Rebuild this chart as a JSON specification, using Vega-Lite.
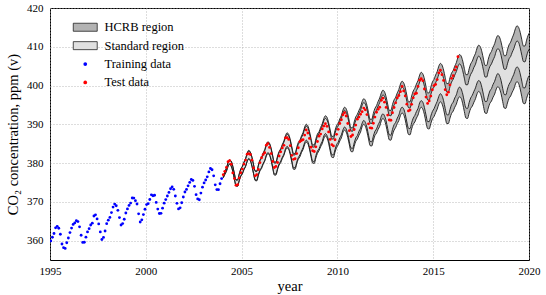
{
"$schema": "https://vega.github.io/schema/vega-lite/v6.json",
"width": 479, "height": 252,
"autosize": {"type": "none"},
"padding": {"left": 50, "top": 8, "right": 17, "bottom": 35},
"background": "white",
"config": {
 "view": {"stroke": "black", "strokeWidth": 1},
 "font": "Liberation Serif",
 "axis": {"labelFont": "Liberation Serif", "titleFont": "Liberation Serif", "labelFontSize": 11, "titleFontSize": 14.5, "labelColor": "black", "titleColor": "black", "titleFontWeight": "normal", "ticks": false, "domain": false, "grid": true, "gridColor": "#aaaaaa", "gridDash": [1, 2], "gridWidth": 0.8, "labelFlush": false}
},
"datasets": {
"band": [
{"t":2004.042,"lh":376.2,"ls":376.2,"hs":376.5,"hh":376.5},
{"t":2004.125,"lh":377.1,"ls":377.1,"hs":377.7,"hh":377.7},
{"t":2004.208,"lh":377.9,"ls":377.9,"hs":378.7,"hh":378.7},
{"t":2004.292,"lh":379.1,"ls":379.2,"hs":380.1,"hh":380.1},
{"t":2004.375,"lh":379.7,"ls":379.8,"hs":380.8,"hh":380.8},
{"t":2004.458,"lh":379.2,"ls":379.2,"hs":380.4,"hh":380.5},
{"t":2004.542,"lh":377.8,"ls":377.9,"hs":379.1,"hh":379.2},
{"t":2004.625,"lh":375.8,"ls":375.9,"hs":377.2,"hh":377.3},
{"t":2004.708,"lh":374.1,"ls":374.2,"hs":375.6,"hh":375.7},
{"t":2004.792,"lh":374.0,"ls":374.1,"hs":375.6,"hh":375.7},
{"t":2004.875,"lh":375.4,"ls":375.5,"hs":377.1,"hh":377.2},
{"t":2004.958,"lh":376.6,"ls":376.7,"hs":378.4,"hh":378.5},
{"t":2005.042,"lh":377.2,"ls":377.4,"hs":379.1,"hh":379.2},
{"t":2005.125,"lh":378.3,"ls":378.4,"hs":380.2,"hh":380.3},
{"t":2005.208,"lh":379.1,"ls":379.2,"hs":381.0,"hh":381.2},
{"t":2005.292,"lh":380.4,"ls":380.5,"hs":382.4,"hh":382.6},
{"t":2005.375,"lh":381.0,"ls":381.2,"hs":383.1,"hh":383.3},
{"t":2005.458,"lh":380.5,"ls":380.7,"hs":382.7,"hh":382.8},
{"t":2005.542,"lh":379.1,"ls":379.3,"hs":381.4,"hh":381.5},
{"t":2005.625,"lh":377.2,"ls":377.3,"hs":379.5,"hh":379.6},
{"t":2005.708,"lh":375.5,"ls":375.7,"hs":377.9,"hh":378.0},
{"t":2005.792,"lh":375.4,"ls":375.6,"hs":377.8,"hh":378.0},
{"t":2005.875,"lh":376.8,"ls":377.0,"hs":379.3,"hh":379.5},
{"t":2005.958,"lh":378.0,"ls":378.2,"hs":380.6,"hh":380.8},
{"t":2006.042,"lh":378.6,"ls":378.9,"hs":381.3,"hh":381.5},
{"t":2006.125,"lh":379.7,"ls":379.9,"hs":382.4,"hh":382.6},
{"t":2006.208,"lh":380.5,"ls":380.7,"hs":383.2,"hh":383.5},
{"t":2006.292,"lh":381.8,"ls":382.1,"hs":384.6,"hh":384.9},
{"t":2006.375,"lh":382.4,"ls":382.7,"hs":385.3,"hh":385.5},
{"t":2006.458,"lh":382.0,"ls":382.2,"hs":384.9,"hh":385.1},
{"t":2006.542,"lh":380.6,"ls":380.9,"hs":383.6,"hh":383.8},
{"t":2006.625,"lh":378.6,"ls":378.9,"hs":381.6,"hh":381.9},
{"t":2006.708,"lh":376.9,"ls":377.2,"hs":380.0,"hh":380.3},
{"t":2006.792,"lh":376.9,"ls":377.2,"hs":380.0,"hh":380.3},
{"t":2006.875,"lh":378.3,"ls":378.6,"hs":381.5,"hh":381.8},
{"t":2006.958,"lh":379.5,"ls":379.8,"hs":382.7,"hh":383.0},
{"t":2007.042,"lh":380.1,"ls":380.5,"hs":383.4,"hh":383.7},
{"t":2007.125,"lh":381.2,"ls":381.5,"hs":384.5,"hh":384.8},
{"t":2007.208,"lh":382.0,"ls":382.3,"hs":385.4,"hh":385.7},
{"t":2007.292,"lh":383.3,"ls":383.7,"hs":386.7,"hh":387.1},
{"t":2007.375,"lh":383.9,"ls":384.3,"hs":387.4,"hh":387.8},
{"t":2007.458,"lh":383.5,"ls":383.8,"hs":387.0,"hh":387.4},
{"t":2007.542,"lh":382.1,"ls":382.5,"hs":385.7,"hh":386.0},
{"t":2007.625,"lh":380.1,"ls":380.5,"hs":383.7,"hh":384.1},
{"t":2007.708,"lh":378.4,"ls":378.8,"hs":382.1,"hh":382.5},
{"t":2007.792,"lh":378.4,"ls":378.8,"hs":382.1,"hh":382.5},
{"t":2007.875,"lh":379.8,"ls":380.2,"hs":383.6,"hh":384.0},
{"t":2007.958,"lh":381.0,"ls":381.4,"hs":384.8,"hh":385.3},
{"t":2008.042,"lh":381.6,"ls":382.1,"hs":385.5,"hh":385.9},
{"t":2008.125,"lh":382.7,"ls":383.1,"hs":386.6,"hh":387.0},
{"t":2008.208,"lh":383.5,"ls":384.0,"hs":387.4,"hh":387.9},
{"t":2008.292,"lh":384.8,"ls":385.3,"hs":388.8,"hh":389.3},
{"t":2008.375,"lh":385.4,"ls":385.9,"hs":389.5,"hh":390.0},
{"t":2008.458,"lh":385.0,"ls":385.5,"hs":389.1,"hh":389.6},
{"t":2008.542,"lh":383.6,"ls":384.1,"hs":387.7,"hh":388.2},
{"t":2008.625,"lh":381.6,"ls":382.1,"hs":385.8,"hh":386.3},
{"t":2008.708,"lh":380.0,"ls":380.5,"hs":384.2,"hh":384.7},
{"t":2008.792,"lh":379.9,"ls":380.4,"hs":384.1,"hh":384.7},
{"t":2008.875,"lh":381.3,"ls":381.9,"hs":385.6,"hh":386.2},
{"t":2008.958,"lh":382.5,"ls":383.1,"hs":386.9,"hh":387.5},
{"t":2009.042,"lh":383.2,"ls":383.7,"hs":387.6,"hh":388.1},
{"t":2009.125,"lh":384.2,"ls":384.8,"hs":388.6,"hh":389.2},
{"t":2009.208,"lh":385.0,"ls":385.6,"hs":389.5,"hh":390.1},
{"t":2009.292,"lh":386.3,"ls":387.0,"hs":390.9,"hh":391.5},
{"t":2009.375,"lh":387.0,"ls":387.6,"hs":391.5,"hh":392.2},
{"t":2009.458,"lh":386.5,"ls":387.1,"hs":391.1,"hh":391.8},
{"t":2009.542,"lh":385.1,"ls":385.8,"hs":389.8,"hh":390.4},
{"t":2009.625,"lh":383.1,"ls":383.8,"hs":387.8,"hh":388.5},
{"t":2009.708,"lh":381.5,"ls":382.2,"hs":386.2,"hh":386.9},
{"t":2009.792,"lh":381.4,"ls":382.1,"hs":386.2,"hh":386.9},
{"t":2009.875,"lh":382.8,"ls":383.5,"hs":387.7,"hh":388.4},
{"t":2009.958,"lh":384.0,"ls":384.8,"hs":388.9,"hh":389.7},
{"t":2010.042,"lh":384.7,"ls":385.4,"hs":389.6,"hh":390.3},
{"t":2010.125,"lh":385.7,"ls":386.5,"hs":390.7,"hh":391.4},
{"t":2010.208,"lh":386.5,"ls":387.3,"hs":391.5,"hh":392.3},
{"t":2010.292,"lh":387.9,"ls":388.6,"hs":392.9,"hh":393.7},
{"t":2010.375,"lh":388.5,"ls":389.3,"hs":393.6,"hh":394.4},
{"t":2010.458,"lh":388.0,"ls":388.8,"hs":393.1,"hh":394.0},
{"t":2010.542,"lh":386.6,"ls":387.5,"hs":391.8,"hh":392.7},
{"t":2010.625,"lh":384.7,"ls":385.5,"hs":389.9,"hh":390.7},
{"t":2010.708,"lh":383.0,"ls":383.9,"hs":388.3,"hh":389.1},
{"t":2010.792,"lh":382.9,"ls":383.8,"hs":388.2,"hh":389.1},
{"t":2010.875,"lh":384.3,"ls":385.2,"hs":389.7,"hh":390.6},
{"t":2010.958,"lh":385.6,"ls":386.5,"hs":391.0,"hh":391.9},
{"t":2011.042,"lh":386.2,"ls":387.1,"hs":391.6,"hh":392.6},
{"t":2011.125,"lh":387.2,"ls":388.2,"hs":392.7,"hh":393.6},
{"t":2011.208,"lh":388.0,"ls":389.0,"hs":393.6,"hh":394.5},
{"t":2011.292,"lh":389.4,"ls":390.3,"hs":394.9,"hh":395.9},
{"t":2011.375,"lh":390.0,"ls":391.0,"hs":395.6,"hh":396.6},
{"t":2011.458,"lh":389.5,"ls":390.5,"hs":395.2,"hh":396.2},
{"t":2011.542,"lh":388.1,"ls":389.2,"hs":393.8,"hh":394.9},
{"t":2011.625,"lh":386.2,"ls":387.2,"hs":391.9,"hh":393.0},
{"t":2011.708,"lh":384.5,"ls":385.6,"hs":390.3,"hh":391.3},
{"t":2011.792,"lh":384.4,"ls":385.5,"hs":390.2,"hh":391.3},
{"t":2011.875,"lh":385.8,"ls":386.9,"hs":391.7,"hh":392.8},
{"t":2011.958,"lh":387.1,"ls":388.2,"hs":393.0,"hh":394.1},
{"t":2012.042,"lh":387.7,"ls":388.8,"hs":393.6,"hh":394.8},
{"t":2012.125,"lh":388.7,"ls":389.9,"hs":394.7,"hh":395.9},
{"t":2012.208,"lh":389.5,"ls":390.7,"hs":395.6,"hh":396.8},
{"t":2012.292,"lh":390.9,"ls":392.1,"hs":396.9,"hh":398.1},
{"t":2012.375,"lh":391.5,"ls":392.7,"hs":397.6,"hh":398.8},
{"t":2012.458,"lh":391.0,"ls":392.2,"hs":397.2,"hh":398.4},
{"t":2012.542,"lh":389.6,"ls":390.9,"hs":395.8,"hh":397.1},
{"t":2012.625,"lh":387.6,"ls":388.9,"hs":393.9,"hh":395.2},
{"t":2012.708,"lh":386.0,"ls":387.3,"hs":392.3,"hh":393.6},
{"t":2012.792,"lh":385.9,"ls":387.2,"hs":392.2,"hh":393.6},
{"t":2012.875,"lh":387.3,"ls":388.7,"hs":393.7,"hh":395.1},
{"t":2012.958,"lh":388.5,"ls":389.9,"hs":395.0,"hh":396.3},
{"t":2013.042,"lh":389.2,"ls":390.5,"hs":395.7,"hh":397.0},
{"t":2013.125,"lh":390.2,"ls":391.6,"hs":396.7,"hh":398.1},
{"t":2013.208,"lh":391.0,"ls":392.4,"hs":397.6,"hh":399.0},
{"t":2013.292,"lh":392.3,"ls":393.8,"hs":398.9,"hh":400.4},
{"t":2013.375,"lh":392.9,"ls":394.4,"hs":399.6,"hh":401.1},
{"t":2013.458,"lh":392.5,"ls":394.0,"hs":399.2,"hh":400.7},
{"t":2013.542,"lh":391.1,"ls":392.6,"hs":397.9,"hh":399.4},
{"t":2013.625,"lh":389.1,"ls":390.6,"hs":395.9,"hh":397.5},
{"t":2013.708,"lh":387.4,"ls":389.0,"hs":394.3,"hh":395.8},
{"t":2013.792,"lh":387.3,"ls":388.9,"hs":394.2,"hh":395.8},
{"t":2013.875,"lh":388.8,"ls":390.4,"hs":395.7,"hh":397.3},
{"t":2013.958,"lh":390.0,"ls":391.6,"hs":397.0,"hh":398.6},
{"t":2014.042,"lh":390.6,"ls":392.3,"hs":397.7,"hh":399.3},
{"t":2014.125,"lh":391.6,"ls":393.3,"hs":398.7,"hh":400.4},
{"t":2014.208,"lh":392.4,"ls":394.1,"hs":399.6,"hh":401.3},
{"t":2014.292,"lh":393.8,"ls":395.5,"hs":400.9,"hh":402.7},
{"t":2014.375,"lh":394.4,"ls":396.1,"hs":401.6,"hh":403.4},
{"t":2014.458,"lh":393.9,"ls":395.7,"hs":401.2,"hh":403.0},
{"t":2014.542,"lh":392.5,"ls":394.3,"hs":399.8,"hh":401.7},
{"t":2014.625,"lh":390.5,"ls":392.4,"hs":397.9,"hh":399.7},
{"t":2014.708,"lh":388.9,"ls":390.7,"hs":396.3,"hh":398.1},
{"t":2014.792,"lh":388.8,"ls":390.7,"hs":396.2,"hh":398.1},
{"t":2014.875,"lh":390.2,"ls":392.1,"hs":397.7,"hh":399.6},
{"t":2014.958,"lh":391.4,"ls":393.3,"hs":399.0,"hh":400.9},
{"t":2015.042,"lh":392.0,"ls":394.0,"hs":399.6,"hh":401.6},
{"t":2015.125,"lh":393.0,"ls":395.0,"hs":400.7,"hh":402.7},
{"t":2015.208,"lh":393.9,"ls":395.9,"hs":401.6,"hh":403.6},
{"t":2015.292,"lh":395.2,"ls":397.2,"hs":402.9,"hh":405.0},
{"t":2015.375,"lh":395.8,"ls":397.9,"hs":403.6,"hh":405.7},
{"t":2015.458,"lh":395.3,"ls":397.4,"hs":403.2,"hh":405.3},
{"t":2015.542,"lh":393.9,"ls":396.1,"hs":401.8,"hh":404.0},
{"t":2015.625,"lh":391.9,"ls":394.1,"hs":399.9,"hh":402.1},
{"t":2015.708,"lh":390.2,"ls":392.5,"hs":398.3,"hh":400.5},
{"t":2015.792,"lh":390.2,"ls":392.4,"hs":398.2,"hh":400.5},
{"t":2015.875,"lh":391.6,"ls":393.8,"hs":399.7,"hh":402.0},
{"t":2015.958,"lh":392.8,"ls":395.1,"hs":400.9,"hh":403.2},
{"t":2016.042,"lh":393.4,"ls":395.7,"hs":401.6,"hh":403.9},
{"t":2016.125,"lh":394.4,"ls":396.8,"hs":402.7,"hh":405.0},
{"t":2016.208,"lh":395.2,"ls":397.6,"hs":403.6,"hh":405.9},
{"t":2016.292,"lh":396.5,"ls":399.0,"hs":404.9,"hh":407.3},
{"t":2016.375,"lh":397.1,"ls":399.6,"hs":405.6,"hh":408.0},
{"t":2016.458,"lh":396.7,"ls":399.1,"hs":405.1,"hh":407.6},
{"t":2016.542,"lh":395.3,"ls":397.8,"hs":403.8,"hh":406.3},
{"t":2016.625,"lh":393.3,"ls":395.8,"hs":401.9,"hh":404.4},
{"t":2016.708,"lh":391.6,"ls":394.2,"hs":400.2,"hh":402.8},
{"t":2016.792,"lh":391.5,"ls":394.1,"hs":400.2,"hh":402.8},
{"t":2016.875,"lh":392.9,"ls":395.6,"hs":401.7,"hh":404.3},
{"t":2016.958,"lh":394.1,"ls":396.8,"hs":402.9,"hh":405.6},
{"t":2017.042,"lh":394.7,"ls":397.5,"hs":403.6,"hh":406.3},
{"t":2017.125,"lh":395.7,"ls":398.5,"hs":404.7,"hh":407.4},
{"t":2017.208,"lh":396.6,"ls":399.4,"hs":405.5,"hh":408.3},
{"t":2017.292,"lh":397.9,"ls":400.7,"hs":406.9,"hh":409.7},
{"t":2017.375,"lh":398.5,"ls":401.3,"hs":407.6,"hh":410.4},
{"t":2017.458,"lh":398.0,"ls":400.9,"hs":407.1,"hh":410.0},
{"t":2017.542,"lh":396.6,"ls":399.5,"hs":405.8,"hh":408.7},
{"t":2017.625,"lh":394.6,"ls":397.6,"hs":403.9,"hh":406.8},
{"t":2017.708,"lh":392.9,"ls":395.9,"hs":402.2,"hh":405.2},
{"t":2017.792,"lh":392.8,"ls":395.9,"hs":402.2,"hh":405.2},
{"t":2017.875,"lh":394.2,"ls":397.3,"hs":403.7,"hh":406.8},
{"t":2017.958,"lh":395.4,"ls":398.6,"hs":404.9,"hh":408.1},
{"t":2018.042,"lh":396.0,"ls":399.2,"hs":405.6,"hh":408.8},
{"t":2018.125,"lh":397.0,"ls":400.3,"hs":406.6,"hh":409.9},
{"t":2018.208,"lh":397.8,"ls":401.1,"hs":407.5,"hh":410.8},
{"t":2018.292,"lh":399.1,"ls":402.4,"hs":408.9,"hh":412.2},
{"t":2018.375,"lh":399.7,"ls":403.1,"hs":409.5,"hh":412.9},
{"t":2018.458,"lh":399.2,"ls":402.6,"hs":409.1,"hh":412.5},
{"t":2018.542,"lh":397.9,"ls":401.3,"hs":407.8,"hh":411.2},
{"t":2018.625,"lh":395.9,"ls":399.3,"hs":405.8,"hh":409.3},
{"t":2018.708,"lh":394.2,"ls":397.7,"hs":404.2,"hh":407.7},
{"t":2018.792,"lh":394.1,"ls":397.6,"hs":404.2,"hh":407.7},
{"t":2018.875,"lh":395.5,"ls":399.1,"hs":405.6,"hh":409.2},
{"t":2018.958,"lh":396.7,"ls":400.3,"hs":406.9,"hh":410.5},
{"t":2019.042,"lh":397.3,"ls":401.0,"hs":407.5,"hh":411.2},
{"t":2019.125,"lh":398.3,"ls":402.0,"hs":408.6,"hh":412.3},
{"t":2019.208,"lh":399.1,"ls":402.9,"hs":409.5,"hh":413.3},
{"t":2019.292,"lh":400.4,"ls":404.2,"hs":410.8,"hh":414.7},
{"t":2019.375,"lh":401.0,"ls":404.8,"hs":411.5,"hh":415.4},
{"t":2019.458,"lh":400.5,"ls":404.4,"hs":411.1,"hh":415.0},
{"t":2019.542,"lh":399.1,"ls":403.0,"hs":409.7,"hh":413.7},
{"t":2019.625,"lh":397.1,"ls":401.1,"hs":407.8,"hh":411.8},
{"t":2019.708,"lh":395.4,"ls":399.4,"hs":406.2,"hh":410.2},
{"t":2019.792,"lh":395.3,"ls":399.4,"hs":406.1,"hh":410.2},
{"t":2019.875,"lh":396.7,"ls":400.8,"hs":407.6,"hh":411.7},
{"t":2019.958,"lh":397.9,"ls":402.1,"hs":408.9,"hh":413.0},
{"t":2020.042,"lh":398.5,"ls":402.7,"hs":409.5,"hh":413.7}
],
"obs": [
{"t":1995.042,"v":359.92,"s":"Training data"},{"t":1995.125,"v":360.86,"s":"Training data"},{"t":1995.208,"v":361.83,"s":"Training data"},{"t":1995.292,"v":363.30,"s":"Training data"},{"t":1995.375,"v":363.69,"s":"Training data"},{"t":1995.458,"v":363.19,"s":"Training data"},{"t":1995.542,"v":361.64,"s":"Training data"},{"t":1995.625,"v":359.12,"s":"Training data"},{"t":1995.708,"v":358.17,"s":"Training data"},{"t":1995.792,"v":357.99,"s":"Training data"},{"t":1995.875,"v":359.45,"s":"Training data"},{"t":1995.958,"v":360.68,"s":"Training data"},
{"t":1996.042,"v":362.07,"s":"Training data"},{"t":1996.125,"v":363.24,"s":"Training data"},{"t":1996.208,"v":364.17,"s":"Training data"},{"t":1996.292,"v":364.57,"s":"Training data"},{"t":1996.375,"v":365.13,"s":"Training data"},{"t":1996.458,"v":364.92,"s":"Training data"},{"t":1996.542,"v":363.55,"s":"Training data"},{"t":1996.625,"v":361.38,"s":"Training data"},{"t":1996.708,"v":359.54,"s":"Training data"},{"t":1996.792,"v":359.58,"s":"Training data"},{"t":1996.875,"v":360.89,"s":"Training data"},{"t":1996.958,"v":362.24,"s":"Training data"},
{"t":1997.042,"v":363.09,"s":"Training data"},{"t":1997.125,"v":364.03,"s":"Training data"},{"t":1997.208,"v":364.51,"s":"Training data"},{"t":1997.292,"v":366.35,"s":"Training data"},{"t":1997.375,"v":366.64,"s":"Training data"},{"t":1997.458,"v":365.59,"s":"Training data"},{"t":1997.542,"v":364.31,"s":"Training data"},{"t":1997.625,"v":362.25,"s":"Training data"},{"t":1997.708,"v":360.29,"s":"Training data"},{"t":1997.792,"v":360.82,"s":"Training data"},{"t":1997.875,"v":362.49,"s":"Training data"},{"t":1997.958,"v":364.38,"s":"Training data"},
{"t":1998.042,"v":365.27,"s":"Training data"},{"t":1998.125,"v":365.98,"s":"Training data"},{"t":1998.208,"v":367.24,"s":"Training data"},{"t":1998.292,"v":368.66,"s":"Training data"},{"t":1998.375,"v":369.42,"s":"Training data"},{"t":1998.458,"v":368.99,"s":"Training data"},{"t":1998.542,"v":367.82,"s":"Training data"},{"t":1998.625,"v":365.95,"s":"Training data"},{"t":1998.708,"v":364.02,"s":"Training data"},{"t":1998.792,"v":364.40,"s":"Training data"},{"t":1998.875,"v":365.52,"s":"Training data"},{"t":1998.958,"v":367.13,"s":"Training data"},
{"t":1999.042,"v":368.18,"s":"Training data"},{"t":1999.125,"v":369.07,"s":"Training data"},{"t":1999.208,"v":369.68,"s":"Training data"},{"t":1999.292,"v":370.99,"s":"Training data"},{"t":1999.375,"v":370.96,"s":"Training data"},{"t":1999.458,"v":370.30,"s":"Training data"},{"t":1999.542,"v":369.45,"s":"Training data"},{"t":1999.625,"v":366.90,"s":"Training data"},{"t":1999.708,"v":364.81,"s":"Training data"},{"t":1999.792,"v":365.37,"s":"Training data"},{"t":1999.875,"v":366.72,"s":"Training data"},{"t":1999.958,"v":368.10,"s":"Training data"},
{"t":2000.042,"v":369.29,"s":"Training data"},{"t":2000.125,"v":369.54,"s":"Training data"},{"t":2000.208,"v":370.60,"s":"Training data"},{"t":2000.292,"v":371.82,"s":"Training data"},{"t":2000.375,"v":371.58,"s":"Training data"},{"t":2000.458,"v":371.70,"s":"Training data"},{"t":2000.542,"v":369.86,"s":"Training data"},{"t":2000.625,"v":368.13,"s":"Training data"},{"t":2000.708,"v":367.00,"s":"Training data"},{"t":2000.792,"v":367.03,"s":"Training data"},{"t":2000.875,"v":368.37,"s":"Training data"},{"t":2000.958,"v":369.67,"s":"Training data"},
{"t":2001.042,"v":370.59,"s":"Training data"},{"t":2001.125,"v":371.51,"s":"Training data"},{"t":2001.208,"v":372.43,"s":"Training data"},{"t":2001.292,"v":373.37,"s":"Training data"},{"t":2001.375,"v":373.85,"s":"Training data"},{"t":2001.458,"v":373.22,"s":"Training data"},{"t":2001.542,"v":371.50,"s":"Training data"},{"t":2001.625,"v":369.61,"s":"Training data"},{"t":2001.708,"v":368.18,"s":"Training data"},{"t":2001.792,"v":368.45,"s":"Training data"},{"t":2001.875,"v":369.76,"s":"Training data"},{"t":2001.958,"v":371.24,"s":"Training data"},
{"t":2002.042,"v":372.53,"s":"Training data"},{"t":2002.125,"v":373.20,"s":"Training data"},{"t":2002.208,"v":374.12,"s":"Training data"},{"t":2002.292,"v":375.02,"s":"Training data"},{"t":2002.375,"v":375.76,"s":"Training data"},{"t":2002.458,"v":375.52,"s":"Training data"},{"t":2002.542,"v":374.01,"s":"Training data"},{"t":2002.625,"v":371.85,"s":"Training data"},{"t":2002.708,"v":370.75,"s":"Training data"},{"t":2002.792,"v":370.55,"s":"Training data"},{"t":2002.875,"v":372.25,"s":"Training data"},{"t":2002.958,"v":373.79,"s":"Training data"},
{"t":2003.042,"v":374.88,"s":"Training data"},{"t":2003.125,"v":375.64,"s":"Training data"},{"t":2003.208,"v":376.45,"s":"Training data"},{"t":2003.292,"v":377.73,"s":"Training data"},{"t":2003.375,"v":378.60,"s":"Training data"},{"t":2003.458,"v":378.28,"s":"Training data"},{"t":2003.542,"v":376.70,"s":"Training data"},{"t":2003.625,"v":374.38,"s":"Training data"},{"t":2003.708,"v":373.17,"s":"Training data"},{"t":2003.792,"v":373.15,"s":"Training data"},{"t":2003.875,"v":374.66,"s":"Training data"},{"t":2003.958,"v":375.99,"s":"Training data"},
{"t":2004.042,"v":377.00,"s":"Test data"},{"t":2004.125,"v":377.87,"s":"Test data"},{"t":2004.208,"v":378.88,"s":"Test data"},{"t":2004.292,"v":380.35,"s":"Test data"},{"t":2004.375,"v":380.62,"s":"Test data"},{"t":2004.458,"v":379.69,"s":"Test data"},{"t":2004.542,"v":377.47,"s":"Test data"},{"t":2004.625,"v":376.01,"s":"Test data"},{"t":2004.708,"v":374.25,"s":"Test data"},{"t":2004.792,"v":374.46,"s":"Test data"},{"t":2004.875,"v":376.16,"s":"Test data"},{"t":2004.958,"v":377.51,"s":"Test data"},
{"t":2005.042,"v":378.46,"s":"Test data"},{"t":2005.125,"v":379.73,"s":"Test data"},{"t":2005.208,"v":380.77,"s":"Test data"},{"t":2005.292,"v":382.29,"s":"Test data"},{"t":2005.375,"v":382.45,"s":"Test data"},{"t":2005.458,"v":382.21,"s":"Test data"},{"t":2005.542,"v":380.74,"s":"Test data"},{"t":2005.625,"v":378.74,"s":"Test data"},{"t":2005.708,"v":376.70,"s":"Test data"},{"t":2005.792,"v":377.00,"s":"Test data"},{"t":2005.875,"v":378.35,"s":"Test data"},{"t":2005.958,"v":380.11,"s":"Test data"},
{"t":2006.042,"v":381.38,"s":"Test data"},{"t":2006.125,"v":382.19,"s":"Test data"},{"t":2006.208,"v":382.67,"s":"Test data"},{"t":2006.292,"v":384.61,"s":"Test data"},{"t":2006.375,"v":385.03,"s":"Test data"},{"t":2006.458,"v":384.05,"s":"Test data"},{"t":2006.542,"v":382.46,"s":"Test data"},{"t":2006.625,"v":380.41,"s":"Test data"},{"t":2006.708,"v":378.85,"s":"Test data"},{"t":2006.792,"v":379.13,"s":"Test data"},{"t":2006.875,"v":380.15,"s":"Test data"},{"t":2006.958,"v":381.82,"s":"Test data"},
{"t":2007.042,"v":382.89,"s":"Test data"},{"t":2007.125,"v":383.90,"s":"Test data"},{"t":2007.208,"v":384.58,"s":"Test data"},{"t":2007.292,"v":386.50,"s":"Test data"},{"t":2007.375,"v":386.56,"s":"Test data"},{"t":2007.458,"v":386.10,"s":"Test data"},{"t":2007.542,"v":384.50,"s":"Test data"},{"t":2007.625,"v":381.99,"s":"Test data"},{"t":2007.708,"v":380.96,"s":"Test data"},{"t":2007.792,"v":381.12,"s":"Test data"},{"t":2007.875,"v":382.45,"s":"Test data"},{"t":2007.958,"v":383.95,"s":"Test data"},
{"t":2008.042,"v":385.52,"s":"Test data"},{"t":2008.125,"v":385.82,"s":"Test data"},{"t":2008.208,"v":386.03,"s":"Test data"},{"t":2008.292,"v":387.21,"s":"Test data"},{"t":2008.375,"v":388.54,"s":"Test data"},{"t":2008.458,"v":387.76,"s":"Test data"},{"t":2008.542,"v":386.36,"s":"Test data"},{"t":2008.625,"v":384.09,"s":"Test data"},{"t":2008.708,"v":383.18,"s":"Test data"},{"t":2008.792,"v":382.99,"s":"Test data"},{"t":2008.875,"v":384.19,"s":"Test data"},{"t":2008.958,"v":385.56,"s":"Test data"},
{"t":2009.042,"v":386.94,"s":"Test data"},{"t":2009.125,"v":387.48,"s":"Test data"},{"t":2009.208,"v":388.82,"s":"Test data"},{"t":2009.292,"v":389.55,"s":"Test data"},{"t":2009.375,"v":390.14,"s":"Test data"},{"t":2009.458,"v":389.48,"s":"Test data"},{"t":2009.542,"v":388.03,"s":"Test data"},{"t":2009.625,"v":386.11,"s":"Test data"},{"t":2009.708,"v":384.74,"s":"Test data"},{"t":2009.792,"v":384.43,"s":"Test data"},{"t":2009.875,"v":386.02,"s":"Test data"},{"t":2009.958,"v":387.42,"s":"Test data"},
{"t":2010.042,"v":388.71,"s":"Test data"},{"t":2010.125,"v":390.20,"s":"Test data"},{"t":2010.208,"v":391.17,"s":"Test data"},{"t":2010.292,"v":392.46,"s":"Test data"},{"t":2010.375,"v":393.00,"s":"Test data"},{"t":2010.458,"v":392.15,"s":"Test data"},{"t":2010.542,"v":390.20,"s":"Test data"},{"t":2010.625,"v":388.35,"s":"Test data"},{"t":2010.708,"v":386.85,"s":"Test data"},{"t":2010.792,"v":387.24,"s":"Test data"},{"t":2010.875,"v":388.67,"s":"Test data"},{"t":2010.958,"v":389.79,"s":"Test data"},
{"t":2011.042,"v":391.33,"s":"Test data"},{"t":2011.125,"v":391.86,"s":"Test data"},{"t":2011.208,"v":392.60,"s":"Test data"},{"t":2011.292,"v":393.25,"s":"Test data"},{"t":2011.375,"v":394.19,"s":"Test data"},{"t":2011.458,"v":393.74,"s":"Test data"},{"t":2011.542,"v":392.51,"s":"Test data"},{"t":2011.625,"v":390.13,"s":"Test data"},{"t":2011.708,"v":389.08,"s":"Test data"},{"t":2011.792,"v":389.00,"s":"Test data"},{"t":2011.875,"v":390.28,"s":"Test data"},{"t":2011.958,"v":391.86,"s":"Test data"},
{"t":2012.042,"v":393.12,"s":"Test data"},{"t":2012.125,"v":393.86,"s":"Test data"},{"t":2012.208,"v":394.40,"s":"Test data"},{"t":2012.292,"v":396.18,"s":"Test data"},{"t":2012.375,"v":396.74,"s":"Test data"},{"t":2012.458,"v":395.71,"s":"Test data"},{"t":2012.542,"v":394.36,"s":"Test data"},{"t":2012.625,"v":392.39,"s":"Test data"},{"t":2012.708,"v":391.11,"s":"Test data"},{"t":2012.792,"v":391.05,"s":"Test data"},{"t":2012.875,"v":392.98,"s":"Test data"},{"t":2012.958,"v":394.34,"s":"Test data"},
{"t":2013.042,"v":395.55,"s":"Test data"},{"t":2013.125,"v":396.80,"s":"Test data"},{"t":2013.208,"v":397.43,"s":"Test data"},{"t":2013.292,"v":398.41,"s":"Test data"},{"t":2013.375,"v":399.78,"s":"Test data"},{"t":2013.458,"v":398.61,"s":"Test data"},{"t":2013.542,"v":397.32,"s":"Test data"},{"t":2013.625,"v":395.20,"s":"Test data"},{"t":2013.708,"v":393.45,"s":"Test data"},{"t":2013.792,"v":393.70,"s":"Test data"},{"t":2013.875,"v":395.16,"s":"Test data"},{"t":2013.958,"v":396.84,"s":"Test data"},
{"t":2014.042,"v":397.85,"s":"Test data"},{"t":2014.125,"v":398.01,"s":"Test data"},{"t":2014.208,"v":399.77,"s":"Test data"},{"t":2014.292,"v":401.38,"s":"Test data"},{"t":2014.375,"v":401.78,"s":"Test data"},{"t":2014.458,"v":401.25,"s":"Test data"},{"t":2014.542,"v":399.10,"s":"Test data"},{"t":2014.625,"v":397.03,"s":"Test data"},{"t":2014.708,"v":395.38,"s":"Test data"},{"t":2014.792,"v":396.03,"s":"Test data"},{"t":2014.875,"v":397.28,"s":"Test data"},{"t":2014.958,"v":398.91,"s":"Test data"},
{"t":2015.042,"v":399.98,"s":"Test data"},{"t":2015.125,"v":400.28,"s":"Test data"},{"t":2015.208,"v":401.54,"s":"Test data"},{"t":2015.292,"v":403.28,"s":"Test data"},{"t":2015.375,"v":403.96,"s":"Test data"},{"t":2015.458,"v":402.80,"s":"Test data"},{"t":2015.542,"v":401.31,"s":"Test data"},{"t":2015.625,"v":398.93,"s":"Test data"},{"t":2015.708,"v":397.63,"s":"Test data"},{"t":2015.792,"v":398.29,"s":"Test data"},{"t":2015.875,"v":400.16,"s":"Test data"},{"t":2015.958,"v":401.85,"s":"Test data"},
{"t":2016.042,"v":402.52,"s":"Test data"},{"t":2016.125,"v":404.04,"s":"Test data"},{"t":2016.208,"v":404.83,"s":"Test data"},{"t":2016.292,"v":407.42,"s":"Test data"}
]
},
"layer": [
{"data": {"name": "band"},
 "mark": {"type": "area", "interpolate": "monotone", "clip": true},
 "encoding": {
  "x": {"field": "t", "type": "quantitative", "title": "year", "scale": {"domain": [1995, 2020], "nice": false, "zero": false}, "axis": {"values": [1995, 2000, 2005, 2010, 2015, 2020], "format": "d", "labelPadding": 5, "titlePadding": 3}},
  "y": {"field": "lh", "type": "quantitative", "title": "CO₂ concentration, ppm (v)", "scale": {"domain": [355, 420], "nice": false, "zero": false}, "axis": {"values": [360, 370, 380, 390, 400, 410, 420], "labelPadding": 7, "titlePadding": 6}},
  "y2": {"field": "hh"},
  "color": {"datum": "HCRB region", "type": "nominal", "title": null,
   "scale": {"domain": ["HCRB region", "Standard region", "Training data", "Test data"], "range": ["#b3b3b3", "#e0e0e0", "#0000ff", "#ff0000"]},
   "legend": {"orient": "none", "legendX": 29, "legendY": 13, "title": null, "padding": 0, "labelFont": "Liberation Serif", "labelFontSize": 12.5, "labelColor": "black", "labelOffset": 13, "rowPadding": 5.4, "symbolSize": 14,
    "encode": {"symbols": {"update": {
     "shape": {"signal": "datum.value === 'HCRB region' || datum.value === 'Standard region' ? 'M-6.4,-2.14H6.4V2.14H-6.4Z' : 'circle'"},
     "stroke": {"signal": "datum.value === 'HCRB region' || datum.value === 'Standard region' ? '#222222' : 'transparent'"},
     "strokeWidth": {"value": 0.8},
     "fill": {"scale": "color", "field": "value"},
     "opacity": {"value": 1},
     "fillOpacity": {"value": 1},
     "size": {"value": 14}}}}}}
 }},
{"data": {"name": "band"},
 "mark": {"type": "area", "interpolate": "monotone", "clip": true},
 "encoding": {
  "x": {"field": "t", "type": "quantitative", "title": "year"},
  "y": {"field": "ls", "type": "quantitative", "title": "CO₂ concentration, ppm (v)"},
  "y2": {"field": "hs"},
  "color": {"datum": "Standard region", "type": "nominal", "title": null}
 }},
{"data": {"name": "band"},
 "mark": {"type": "line", "interpolate": "monotone", "clip": true, "color": "#1a1a1a", "strokeWidth": 0.9},
 "encoding": {"x": {"field": "t", "type": "quantitative", "title": "year"}, "y": {"field": "hh", "type": "quantitative", "title": "CO₂ concentration, ppm (v)"}}},
{"data": {"name": "band"},
 "mark": {"type": "line", "interpolate": "monotone", "clip": true, "color": "#1a1a1a", "strokeWidth": 0.9},
 "encoding": {"x": {"field": "t", "type": "quantitative", "title": "year"}, "y": {"field": "hs", "type": "quantitative", "title": "CO₂ concentration, ppm (v)"}}},
{"data": {"name": "band"},
 "mark": {"type": "line", "interpolate": "monotone", "clip": true, "color": "#1a1a1a", "strokeWidth": 0.9},
 "encoding": {"x": {"field": "t", "type": "quantitative", "title": "year"}, "y": {"field": "ls", "type": "quantitative", "title": "CO₂ concentration, ppm (v)"}}},
{"data": {"name": "band"},
 "mark": {"type": "line", "interpolate": "monotone", "clip": true, "color": "#1a1a1a", "strokeWidth": 0.9},
 "encoding": {"x": {"field": "t", "type": "quantitative", "title": "year"}, "y": {"field": "lh", "type": "quantitative", "title": "CO₂ concentration, ppm (v)"}}},
{"data": {"name": "obs"},
 "mark": {"type": "point", "filled": true, "size": 8, "opacity": 1, "clip": true},
 "encoding": {
  "x": {"field": "t", "type": "quantitative", "title": "year"},
  "y": {"field": "v", "type": "quantitative", "title": "CO₂ concentration, ppm (v)"},
  "color": {"field": "s", "type": "nominal", "title": null}
 }}
]
}
